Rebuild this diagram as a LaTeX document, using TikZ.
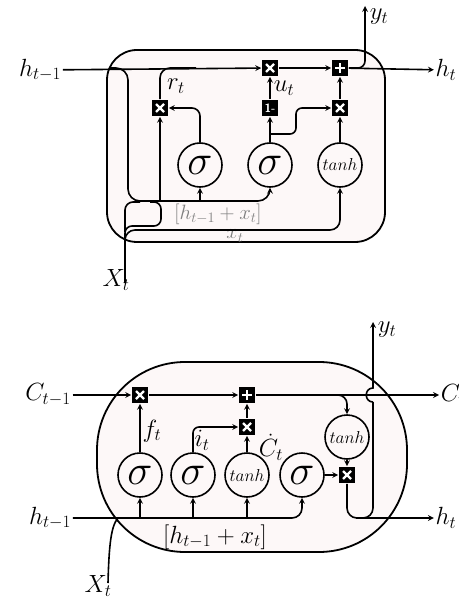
\documentclass[tikz,border=0pt]{standalone}
\usepackage{amsmath}
\usepackage{graphicx}
\usepackage{tikz}
\usetikzlibrary{arrows, positioning, calc}
\definecolor{cellpink}{RGB}{253,248,248}
\newcommand{\bigsig}{\scalebox{1.7}{$\sigma$}}

\begin{document}
\begin{tikzpicture}[
    x=1pt, y=-1pt,
    line width=1.6pt,
    cell/.style={rectangle, draw, line width=1.8pt, fill=cellpink},
    gate/.style={circle, draw, fill=cellpink, minimum size=44pt, inner sep=0pt,
        font=\fontsize{24}{26}\selectfont},
    tgate/.style={gate, font=\fontsize{17}{17}\selectfont},
    opbox/.style={rectangle, fill=black, minimum size=16pt, inner sep=0pt},
    mult/.style={opbox, path picture={
        \draw[white, line width=2.4pt]
          ([shift={(-4pt,-4pt)}]path picture bounding box.center) -- ([shift={(4pt,4pt)}]path picture bounding box.center)
          ([shift={(-4pt,4pt)}]path picture bounding box.center) -- ([shift={(4pt,-4pt)}]path picture bounding box.center);}},
    plus/.style={opbox, path picture={
        \draw[white, line width=2.6pt]
          ([shift={(-5pt,0pt)}]path picture bounding box.center) -- ([shift={(5pt,0pt)}]path picture bounding box.center)
          ([shift={(0pt,-5pt)}]path picture bounding box.center) -- ([shift={(0pt,5pt)}]path picture bounding box.center);}},
    onem/.style={opbox, text=white, font=\fontsize{12}{12}\selectfont\bfseries\sffamily},
    lbl/.style={font=\fontsize{24}{26}\selectfont, inner sep=1pt},
    arrow/.style={-stealth}
]
\useasboundingbox (0,0) rectangle (458,601);

% ---- upper cell
\node[cell, minimum width=278pt, minimum height=192pt, rounded corners=30pt] (gru) at (246,146) {};
\node[lbl] (hprev) at (40,70) {$h_{t-1}$};
\node[lbl] (hnext) at (446,70) {$h_t$};
\node[lbl] (xin) at (116,280) {$X_t$};
\node[lbl, anchor=west] (ylab) at (368,17) {$y_t$};
\coordinate (xbot) at (125,283);
\coordinate (ytop) at (365,6);
\coordinate (hsplit) at (110,68);
\coordinate (rjoin) at (196,68);
\coordinate (rin) at (160,201);
\coordinate (sin) at (200,201);
\coordinate (ubr) at (270,134);
\coordinate (xt) at (340,230);

\node[mult] (mr) at (160,108) {};
\node[mult] (mu) at (270,68) {};
\node[plus] (ph) at (340,68) {};
\node[onem] (om) at (270,108) {1-};
\node[mult] (mh) at (340,108) {};
\node[gate] (sr) at (200,165) {\bigsig};
\node[gate] (su) at (270,165) {\bigsig};
\node[tgate] (th) at (340,165) {$tanh$};

\node[lbl] (rlab) at (176,86) {$r_t$};
\node[lbl] (ulab) at (284,88) {$u_t$};
\node[lbl, font=\fontsize{20}{22}\selectfont, text=gray] (hxlab) at (218,214) {$[h_{t-1}+x_t]$};
\node[lbl, font=\fontsize{20}{22}\selectfont, text=gray] (xlab) at (235,236) {$x_t$};

\draw[arrow] (hprev) -- (mu);
\draw[arrow] (mu) -- (ph);
\draw[arrow] (ph) -- (hnext);
\draw[arrow, rounded corners=7pt] (ph.east) -| (ytop);
\draw[arrow] (su) -- (om);
\draw[arrow] (om) -- (mu);
\draw[arrow] (th) -- (mh);
\draw[arrow] (mh) -- (ph);
\draw[arrow, rounded corners=8pt] (sr.north) |- (mr.east);
\draw[arrow, rounded corners=6pt] (ubr) -- ++(26,0) |- (mh.west);
\draw[rounded corners=10pt] (mr.north) |- (rjoin);
\draw[arrow, rounded corners=12pt] (hsplit) -| (128,201) -| (su.south);
\draw[arrow] (rin) -- (mr.south);
\draw[arrow] (sin) -- (sr.south);
\draw[arrow, rounded corners=10pt] (xbot) |- (xt) -- (th.south);
\draw[rounded corners=8pt] (125,232) |- (140,202);
\draw[rounded corners=7pt] (150,202) -| (161,226) -| (125,238);

% ---- lower cell
\node[cell, minimum width=310pt, minimum height=190pt, rounded corners=88pt] (lstm) at (252,457) {};
\node[lbl] (cprev) at (48,395) {$C_{t-1}$};
\node[lbl, anchor=west] (cnext) at (439,395) {$C_t$};
\node[lbl] (hprev2) at (50,518) {$h_{t-1}$};
\node[lbl] (hnext2) at (446,518) {$h_t$};
\node[lbl] (xin2) at (98,586) {$X_t$};
\node[lbl, anchor=west] (ylab2) at (376,330) {$y_t$};
\coordinate (yt2) at (373,322);
\coordinate (ctap) at (306,395);
\coordinate (hjoin) at (356,518);
\coordinate (hop1) at (373,402);
\coordinate (hop2) at (373,388);
\coordinate (xbot2) at (108,583);
\coordinate (xjoin2) at (118,518);
\coordinate (fin) at (140,518);
\coordinate (iin) at (193,518);
\coordinate (cin) at (247,518);

\node[mult] (mf) at (140,395) {};
\node[plus] (pc) at (247,395) {};
\node[mult] (mi) at (247,427) {};
\node[gate] (sf) at (140,475) {\bigsig};
\node[gate] (si) at (193,475) {\bigsig};
\node[tgate] (tc) at (247,475) {$tanh$};
\node[gate] (so) at (302,475) {\bigsig};
\node[tgate] (tu) at (347,437) {$tanh$};
\node[mult] (mo) at (347,475) {};

\node[lbl] (flab) at (152,431) {$f_t$};
\node[lbl] (ilab) at (202,440) {$i_t$};
\node[lbl] (cdlab) at (271,447) {$\dot{C}_t$};
\node[lbl] (hxlab2) at (215,537) {$[h_{t-1}+x_t]$};

\draw[arrow] (cprev) -- (mf);
\draw[arrow] (mf) -- (pc);
\draw[arrow] (pc) -- (cnext);
\draw[arrow] (sf) -- (mf);
\draw[arrow, rounded corners=6pt] (si.north) |- (mi.west);
\draw[arrow] (tc) -- (mi);
\draw[arrow] (mi) -- (pc);
\draw[arrow] (so) -- (mo);
\draw[arrow] (tu) -- (mo);
\draw[arrow, rounded corners=9pt] (ctap) -| (tu.north);
\draw[arrow, rounded corners=10pt] (mo.south) |- (hnext2);
\draw[rounded corners=10pt] (hjoin) -| (hop1);
\draw[arrow] (hop1) .. controls (364,402) and (364,388) .. (hop2) -- (yt2);
\draw[arrow, rounded corners=10pt] (hprev2) -| (so.south);
\draw[arrow] (fin) -- (sf.south);
\draw[arrow] (iin) -- (si.south);
\draw[arrow] (cin) -- (tc.south);
\draw (xbot2) .. controls (109,545) and (111,526) .. (xjoin2);
\end{tikzpicture}
\end{document}
